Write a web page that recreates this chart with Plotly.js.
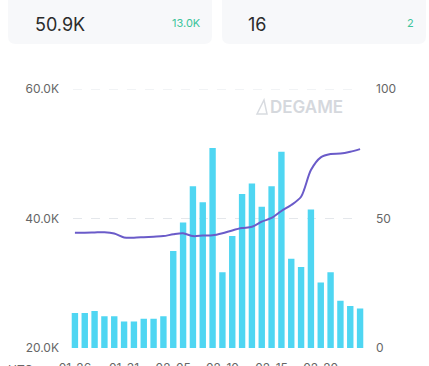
<!DOCTYPE html>
<html>
<head>
<meta charset="utf-8">
<script src="https://cdn.plot.ly/plotly-3.0.1.min.js"></script>
<style>
html,body{margin:0;padding:0;background:#fff;}
#chart{width:429px;height:366px;}
</style>
</head>
<body>
<div id="chart"></div>
<script>
const dates = ["01-26","01-27","01-28","01-29","01-30","01-31","02-01","02-02","02-03","02-04",
               "02-05","02-06","02-07","02-08","02-09","02-10","02-11","02-12","02-13","02-14",
               "02-15","02-16","02-17","02-18","02-19","02-20","02-21","02-22","02-23","02-24"];
const barValues = [25400,25400,25700,24900,24900,24100,24100,24500,24500,24900,
                   35000,39400,45000,42500,50900,31700,37300,43800,45400,41800,
                   45000,50300,33800,32500,41400,30100,31700,27300,26500,26100];
const lineValues = [44.5,44.5,44.6,44.7,44.2,42.7,42.6,42.8,43.0,43.2,
                    43.9,44.3,43.2,43.4,43.5,44.3,45.4,46.3,46.8,48.8,
                    50.2,52.9,55.2,58.4,68.7,73.6,74.9,75.1,75.8,76.8];
const tickDates = ["01-26","01-31","02-05","02-10","02-15","02-20"];
const leftTicks = [20000,40000,60000];
const leftTickText = ["20.0K","40.0K","60.0K"];
const gridValues = [40000,60000];
const rightTicks = [0,50,100];
const cardMain = ["50.9K","16"];
const cardDelta = ["13.0K","2"];

const L = 70, R = 365, T = 89, B = 348;
const W = 429, H = 366;
const px = x => (x - L) / (R - L);
const py = y => (B - y) / (B - T);

function roundRect(x0, y0, x1, y1, r) {
  const X0 = px(x0), X1 = px(x1), Y0 = py(y0), Y1 = py(y1);
  const rx = r / (R - L), ry = r / (B - T);
  return `M${X0+rx},${Y0} L${X1-rx},${Y0} Q${X1},${Y0} ${X1},${Y0-ry} L${X1},${Y1+ry} Q${X1},${Y1} ${X1-rx},${Y1} L${X0+rx},${Y1} Q${X0},${Y1} ${X0},${Y1+ry} L${X0},${Y0-ry} Q${X0},${Y0} ${X0+rx},${Y0} Z`;
}

const font = "Inter, 'Open Sans', sans-serif";

const traces = [
  {
    type: 'bar', x: dates, y: barValues, yaxis: 'y',
    marker: {color: '#4fd6f2'}, hoverinfo: 'none'
  },
  {
    type: 'scatter', mode: 'lines', x: dates, y: lineValues, yaxis: 'y2',
    line: {color: '#6a5bc9', width: 2, shape: 'spline', smoothing: 0.8}, hoverinfo: 'none'
  }
];

const gridShapes = gridValues.map(v => ({
  type: 'line', xref: 'paper', yref: 'y', x0: px(73), x1: px(358), y0: v, y1: v,
  line: {color: '#e4e7eb', width: 1, dash: 'dash'}, layer: 'below'
}));

const layout = {
  width: W, height: H,
  margin: {l: L, r: W - R, t: T, b: H - B},
  paper_bgcolor: '#ffffff', plot_bgcolor: '#ffffff',
  showlegend: false,
  bargap: 0.35,
  font: {family: font, color: '#666', size: 12},
  xaxis: {
    type: 'category', tickmode: 'array', tickvals: tickDates, ticktext: tickDates,
    showgrid: false, zeroline: false, showline: false, ticks: '',
    ticklabelstandoff: 11, tickfont: {size: 12, color: '#666'}, fixedrange: true
  },
  yaxis: {
    range: [20000, 60000], tickvals: leftTicks, ticktext: leftTickText,
    showgrid: false, zeroline: false, showline: false, ticks: '', ticklabelstandoff: 10,
    tickfont: {size: 12, color: '#666'}
  },
  yaxis2: {
    overlaying: 'y', side: 'right', range: [0, 100], tickvals: rightTicks,
    showgrid: false, zeroline: false, showline: false, ticks: '', ticklabelstandoff: 10,
    tickfont: {size: 12, color: '#666'}
  },
  shapes: [
    {type: 'path', xref: 'paper', yref: 'paper', path: roundRect(8, -12, 212, 44, 8),
     fillcolor: '#f7f8fa', line: {width: 0}, layer: 'below'},
    {type: 'path', xref: 'paper', yref: 'paper', path: roundRect(222, -12, 426, 44, 8),
     fillcolor: '#f7f8fa', line: {width: 0}, layer: 'below'},
    {type: 'path', xref: 'paper', yref: 'paper',
     path: `M${px(257)},${py(114)} L${px(264)},${py(100)} L${px(267)},${py(114)} Z`,
     fillcolor: 'rgba(0,0,0,0)', line: {color: '#d8dbe0', width: 1.5}, layer: 'above'}
  ].concat(gridShapes),
  annotations: [
    {xref: 'paper', yref: 'paper', x: px(33), y: py(24), xanchor: 'left', yanchor: 'middle',
     text: cardMain[0], showarrow: false, font: {size: 18, color: '#2b2b2b', family: font}},
    {xref: 'paper', yref: 'paper', x: px(203), y: py(23), xanchor: 'right', yanchor: 'middle',
     text: cardDelta[0], showarrow: false, font: {size: 11, color: '#3dc49a', family: font}},
    {xref: 'paper', yref: 'paper', x: px(246), y: py(24), xanchor: 'left', yanchor: 'middle',
     text: cardMain[1], showarrow: false, font: {size: 18, color: '#2b2b2b', family: font}},
    {xref: 'paper', yref: 'paper', x: px(416), y: py(23), xanchor: 'right', yanchor: 'middle',
     text: cardDelta[1], showarrow: false, font: {size: 11, color: '#3dc49a', family: font}},
    {xref: 'paper', yref: 'paper', x: px(268), y: py(107), xanchor: 'left', yanchor: 'middle',
     text: 'DEGAME', showarrow: false, font: {size: 17, color: '#d5d8dd', family: font, weight: 600}},
    {xref: 'paper', yref: 'paper', x: px(20), y: py(369), xanchor: 'center', yanchor: 'middle',
     text: 'UTC', showarrow: false, font: {size: 12, color: '#666', family: font}}
  ]
};

Plotly.newPlot('chart', traces, layout, {staticPlot: true, displayModeBar: false});
</script>
</body>
</html>
